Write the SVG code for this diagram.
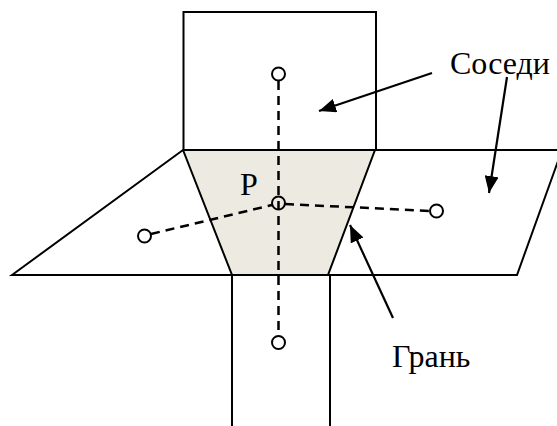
<svg xmlns="http://www.w3.org/2000/svg" width="557" height="426" viewBox="0 0 557 426">
<defs>
<style>
.cell{fill:none;stroke:#000;stroke-width:2;stroke-linejoin:miter}
.face{fill:#ECEAE1;stroke:none}
.dash{fill:none;stroke:#000;stroke-width:2.5;stroke-dasharray:9 6}
.pt{fill:none;stroke:#000;stroke-width:2}
.arr{fill:none;stroke:#000;stroke-width:2.2;marker-end:url(#ah)}
.lbl{font-family:"Liberation Serif","Times New Roman",serif;font-size:32px;fill:#000}
</style>
<marker id="ah" markerUnits="userSpaceOnUse" markerWidth="18" markerHeight="14" refX="17" refY="7" orient="auto">
<path d="M0,0 L17,7 L0,14 z" fill="#000"/>
</marker>
</defs>
<rect width="557" height="426" fill="#fff"/>
<g id="face-P">
<polygon class="face" points="183,150 375,150 328,275 232,275"/>
</g>
<g id="cell-top">
<rect class="cell" x="183.5" y="12" width="192.5" height="138"/>
</g>
<g id="cell-left">
<polygon class="cell" points="12,275 183,150 232,275"/>
</g>
<g id="cell-right">
<polygon class="cell" points="375,150 562,150 517,275 328,275"/>
</g>
<g id="cell-bottom">
<polyline class="cell" points="232,426 232,275 330,275 330,426"/>
</g>
<g id="connectors">
<line class="dash" x1="278.5" y1="81" x2="278.5" y2="336"/>
<line class="dash" x1="151" y1="234" x2="272" y2="205"/>
<line class="dash" x1="285" y1="204" x2="430" y2="211"/>
<line class="arr" x1="432" y1="73" x2="319" y2="111"/>
<line class="arr" x1="507" y1="77" x2="489" y2="193"/>
<line class="arr" x1="393" y1="318" x2="350" y2="225"/>
</g>
<g id="points">
<circle class="pt" cx="278.5" cy="74" r="6.5"/>
<circle class="pt" cx="278.5" cy="203" r="6.5"/>
<circle class="pt" cx="144.5" cy="236" r="6.5"/>
<circle class="pt" cx="436.5" cy="211" r="6.5"/>
<circle class="pt" cx="278.5" cy="342.5" r="6.5"/>
</g>
<g id="labels">
<text class="lbl" x="240" y="195">P</text>
<text class="lbl" x="450" y="74">Соседи</text>
<text class="lbl" x="392" y="367">Грань</text>
</g>
</svg>
